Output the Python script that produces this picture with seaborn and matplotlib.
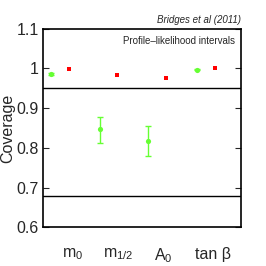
import numpy as np
import matplotlib
matplotlib.use('Agg')
import matplotlib.pyplot as plt
import seaborn as sns

# Coverage values
params = ['$\\mathregular{m_0}$', '$\\mathregular{m_{1/2}}$', '$\\mathregular{A_0}$', 'tan β']
positions = [1, 2, 3, 4]
green_cov = [0.986, 0.847, 0.818, 0.997]
green_lo = [0.984, 0.812, 0.779, 0.996]
green_hi = [0.988, 0.878, 0.855, 0.998]
red_cov = [0.999, 0.983, 0.975, 1.0]
ref_levels = [0.95, 0.68]
yticks = [0.6, 0.7, 0.8, 0.9, 1.0, 1.1]
ytick_labels = ['0.6', '0.7', '0.8', '0.9', '1', '1.1']

sns.set_style('ticks')
plt.rcParams['font.family'] = ['Liberation Sans', 'DejaVu Sans']

fig = plt.figure(figsize=(2.66, 2.66), dpi=100)
ax = fig.add_axes([0.1605, 0.1455, 0.7455, 0.7466])

gx = np.array(positions) - 0.18
rx = np.array(positions) + 0.18
green = '#66ff33'

ax.errorbar(gx, green_cov,
            yerr=[np.array(green_cov) - np.array(green_lo), np.array(green_hi) - np.array(green_cov)],
            fmt='none', ecolor=green, elinewidth=1, capsize=2, capthick=1)
sns.scatterplot(x=gx, y=green_cov, ax=ax, color=green, marker='o', s=14, linewidth=0)
sns.scatterplot(x=rx, y=red_cov, ax=ax, color='red', marker='s', s=10, linewidth=0)

for lvl in ref_levels:
    ax.axhline(lvl, color='black', lw=1)

ax.set_xlim(0.65, 4.72)
ax.set_ylim(0.6, 1.1)
ax.set_yticks(yticks)
ax.set_yticklabels(ytick_labels)
ax.set_xticks([1.27, 2.2, 3.13, 4.15])
ax.set_xticklabels(params)
ax.tick_params(axis='x', length=0, pad=14, labelsize=11.5)
ax.tick_params(axis='y', direction='in', length=4, right=True, labelsize=11.5, pad=3)
for s in ax.spines.values():
    s.set_linewidth(1.2)
    s.set_color('black')

ax.set_ylabel('Coverage', fontsize=11.5, labelpad=1)
ax.text(1.0, 1.02, 'Bridges et al (2011)', transform=ax.transAxes, ha='right', va='bottom',
        fontsize=7, style='italic')
ax.text(0.97, 0.94, 'Profile\u2013likelihood intervals', transform=ax.transAxes, ha='right',
        va='center', fontsize=7)

fig.savefig('out.png', dpi=100)
